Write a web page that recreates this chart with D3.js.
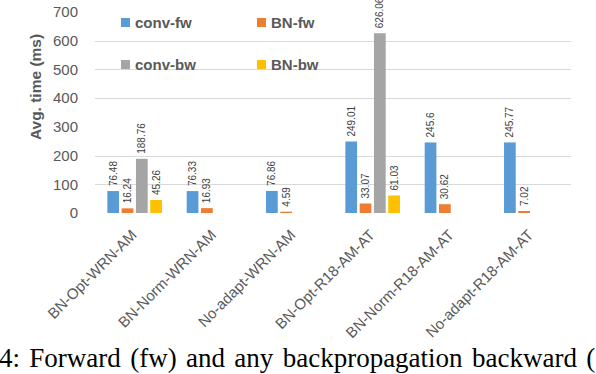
<!DOCTYPE html>
<html><head><meta charset="utf-8">
<script src="https://cdn.jsdelivr.net/npm/d3@7"></script>
<style>body{margin:0;background:#fff;} svg{display:block;}</style>
</head><body>
<svg id="c" width="596" height="374"></svg>
<script>
const categories = ["BN-Opt-WRN-AM","BN-Norm-WRN-AM","No-adapt-WRN-AM","BN-Opt-R18-AM-AT","BN-Norm-R18-AM-AT","No-adapt-R18-AM-AT"];
const seriesNames = ["conv-fw","BN-fw","conv-bw","BN-bw"];
const convFw = [76.48, 76.33, 76.86, 249.01, 245.6, 245.77];
const bnFw = [16.24, 16.93, 4.59, 33.07, 30.62, 7.02];
const convBw = [188.76, null, null, 626.06, null, null];
const bnBw = [45.26, null, null, 61.03, null, null];
const seriesColors = ["#5B9BD5","#ED7D31","#A5A5A5","#FFC000"];
const yTicks = [0,100,200,300,400,500,600,700];
const gridValues = [100,200,400,500,600];
const yTitle = "Avg. time (ms)";
const caption = "4: Forward (fw) and any backpropagation backward (";

const seriesValues = [convFw, bnFw, convBw, bnBw];
const svg = d3.select("#c");
const x0 = d3.scaleBand().domain(categories).range([95, 571]).paddingInner(0).paddingOuter(0);
const x1 = d3.scaleBand().domain(seriesNames).range([0, x0.bandwidth()]).paddingInner(0.18).paddingOuter(0.864);
const y = d3.scaleLinear().domain([0,700]).range([213, 12]);

// gridlines
svg.append("g").selectAll("line").data(gridValues).join("line")
  .attr("x1", 95).attr("x2", 571)
  .attr("y1", d => Math.round(y(d)) + 0.5).attr("y2", d => Math.round(y(d)) + 0.5)
  .attr("stroke", "#d9d9d9").attr("stroke-width", 1);

// y axis
const yAxis = d3.axisLeft(y).tickValues(yTicks).tickSize(0).tickPadding(0);
const gy = svg.append("g").attr("transform", "translate(78,0)").call(yAxis);
gy.select(".domain").remove();
gy.selectAll("text").attr("font-family", "Liberation Sans, Arial, sans-serif")
  .attr("font-size", 15).attr("fill", "#595959").attr("x", 0);

svg.append("text").attr("transform", "translate(41,87) rotate(-90)")
  .attr("text-anchor", "middle").attr("font-family", "Liberation Sans, Arial, sans-serif")
  .attr("font-weight", "bold").attr("font-size", 15.5).attr("fill", "#595959").text(yTitle);

// bars
const flat = [];
categories.forEach((c, i) => seriesNames.forEach((s, j) => {
  const v = seriesValues[j][i];
  if (v !== null) flat.push({c, s, v, j});
}));
svg.append("g").selectAll("rect").data(flat).join("rect")
  .attr("x", d => x0(d.c) + x1(d.s)).attr("width", x1.bandwidth())
  .attr("y", d => y(d.v)).attr("height", d => y(0) - y(d.v))
  .attr("fill", d => seriesColors[d.j]);

// value labels
svg.append("g").selectAll("text").data(flat).join("text")
  .attr("transform", d => `translate(${x0(d.c) + x1(d.s) + x1.bandwidth()/2 + 3.5},${y(d.v) - 5}) rotate(-90)`)
  .attr("font-family", "Liberation Sans, Arial, sans-serif").attr("font-size", 10)
  .attr("fill", "#404040").text(d => d.v);

// x labels
const xAxis = d3.axisBottom(x0).tickSize(0).tickPadding(0);
const gx = svg.append("g").attr("transform", "translate(0,213)").call(xAxis);
gx.select(".domain").remove();
gx.selectAll("text").attr("font-family", "Liberation Sans, Arial, sans-serif")
  .attr("font-size", 15).attr("fill", "#595959")
  .attr("text-anchor", "end").attr("dy", null).attr("y", null)
  .attr("transform", "translate(3,23) rotate(-45)");

// legend
const legendPos = [[121,18],[257,18],[121,60],[257,60]];
const lg = svg.append("g").selectAll("g").data(seriesNames).join("g")
  .attr("transform", (d,i) => `translate(${legendPos[i][0]},${legendPos[i][1]})`);
lg.append("rect").attr("width", 9).attr("height", 9).attr("fill", (d,i) => seriesColors[i]);
lg.append("text").attr("x", 14).attr("y", 10).attr("font-family", "Liberation Sans, Arial, sans-serif")
  .attr("font-weight", "bold").attr("font-size", 15).attr("fill", "#595959").text(d => d);

// caption
svg.append("text").attr("x", -1).attr("y", 367).attr("font-family", "Liberation Serif, Times New Roman, serif")
  .attr("font-size", 27).attr("word-spacing", 2.6).attr("fill", "#000").text(caption);
</script>
</body></html>
